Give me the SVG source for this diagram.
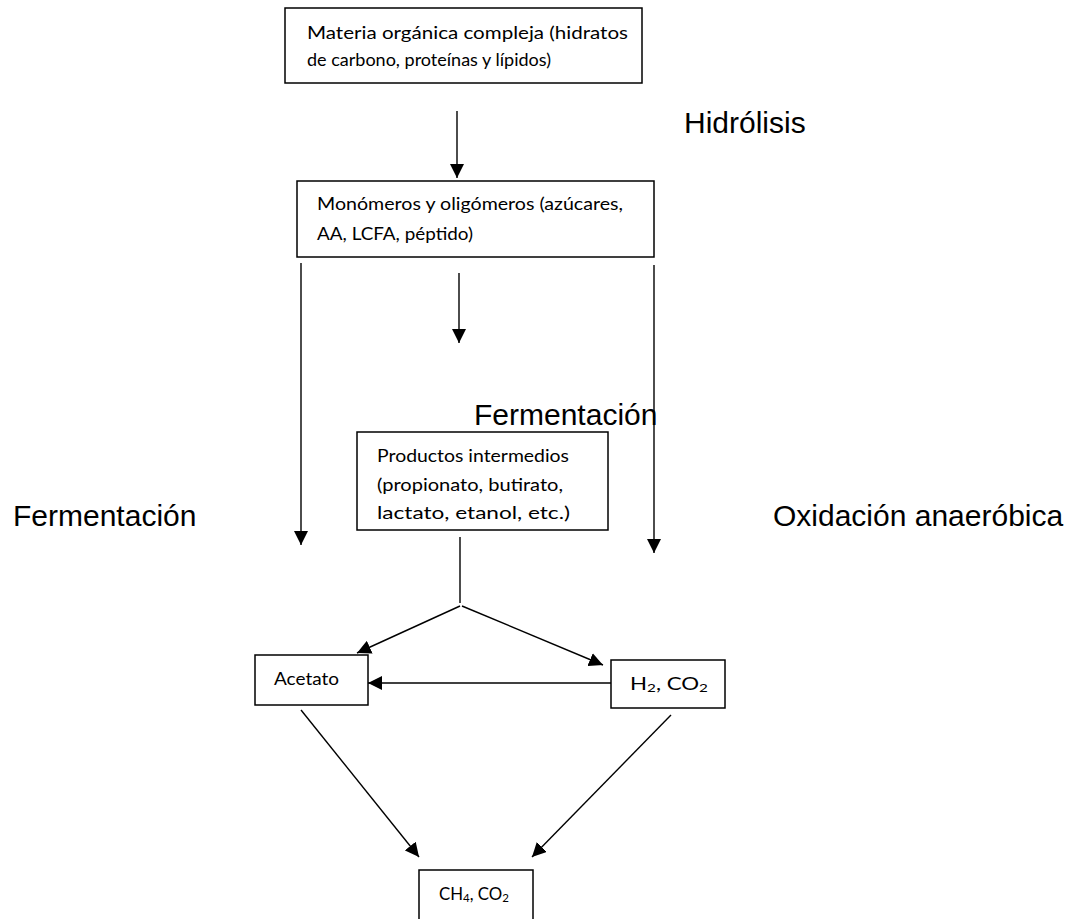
<svg xmlns="http://www.w3.org/2000/svg" width="1081" height="919" viewBox="0 0 1081 919">
<style>
.box{fill:#fff;stroke:#000;stroke-width:1.5}
.bt{font-family:Lato,"Open Sans","Liberation Sans",sans-serif;font-size:17.5px;fill:#000}
.lbl{font-family:"Liberation Sans",Arial,sans-serif;font-size:30px;fill:#000}
.sub{font-size:12px}
.con{fill:none;stroke:#000;stroke-width:1.4}
</style>
<defs>
<marker id="ah" markerUnits="userSpaceOnUse" markerWidth="15" markerHeight="14" refX="14" refY="7" orient="auto">
<path d="M0,0 L14,7 L0,14 z" fill="#000"/>
</marker>
</defs>
<rect width="1081" height="919" fill="#fff"/>
<g id="connectors">
<line class="con" x1="457" y1="111" x2="457" y2="178" marker-end="url(#ah)"/>
<line class="con" x1="301" y1="263" x2="301" y2="545" marker-end="url(#ah)"/>
<line class="con" x1="654" y1="265" x2="654" y2="553" marker-end="url(#ah)"/>
<line class="con" x1="459" y1="273" x2="459" y2="343" marker-end="url(#ah)"/>
<line class="con" x1="460" y1="537" x2="460" y2="603"/>
<line class="con" x1="460" y1="606" x2="357" y2="653" marker-end="url(#ah)"/>
<line class="con" x1="462" y1="606" x2="603" y2="665" marker-end="url(#ah)"/>
<line class="con" x1="611" y1="683" x2="368" y2="683" marker-end="url(#ah)"/>
<line class="con" x1="301" y1="710" x2="419" y2="857" marker-end="url(#ah)"/>
<line class="con" x1="671" y1="715" x2="532" y2="857" marker-end="url(#ah)"/>
</g>
<g id="labels">
<text class="lbl" x="684" y="133">Hidrólisis</text>
<text class="lbl" x="474" y="425">Fermentación</text>
<text class="lbl" x="13" y="526">Fermentación</text>
<text class="lbl" x="773" y="526">Oxidación anaeróbica</text>
</g>
<g id="node-materia">
<rect class="box" x="285" y="8" width="357" height="75"/>
<text class="bt" x="307" y="39" textLength="321" lengthAdjust="spacingAndGlyphs">Materia orgánica compleja (hidratos</text>
<text class="bt" x="307" y="66" textLength="244" lengthAdjust="spacingAndGlyphs">de carbono, proteínas y lípidos)</text>
</g>
<g id="node-monomeros">
<rect class="box" x="297" y="181" width="357" height="76"/>
<text class="bt" x="317" y="210" textLength="306" lengthAdjust="spacingAndGlyphs">Monómeros y oligómeros (azúcares,</text>
<text class="bt" x="317" y="240" textLength="156" lengthAdjust="spacingAndGlyphs">AA, LCFA, péptido)</text>
</g>
<g id="node-productos">
<rect class="box" x="357" y="432" width="251" height="98"/>
<text class="bt" x="377" y="462" textLength="192" lengthAdjust="spacingAndGlyphs">Productos intermedios</text>
<text class="bt" x="377" y="491" textLength="186" lengthAdjust="spacingAndGlyphs">(propionato, butirato,</text>
<text class="bt" x="377" y="519" textLength="193" lengthAdjust="spacingAndGlyphs">lactato, etanol, etc.)</text>
</g>
<g id="node-acetato">
<rect class="box" x="255" y="655" width="113" height="50"/>
<text class="bt" x="274" y="685" textLength="65" lengthAdjust="spacingAndGlyphs">Acetato</text>
</g>
<g id="node-h2co2">
<rect class="box" x="611" y="660" width="114" height="48"/>
<text class="bt" x="630" y="690" textLength="78" lengthAdjust="spacingAndGlyphs">H<tspan class="sub" dy="2">2</tspan><tspan dy="-2">, CO</tspan><tspan class="sub" dy="2">2</tspan></text>
</g>
<g id="node-ch4co2">
<rect class="box" x="419" y="870" width="114" height="60"/>
<text class="bt" x="439" y="900" textLength="70" lengthAdjust="spacingAndGlyphs">CH<tspan class="sub" dy="2">4</tspan><tspan dy="-2">, CO</tspan><tspan class="sub" dy="2">2</tspan></text>
</g>
</svg>
